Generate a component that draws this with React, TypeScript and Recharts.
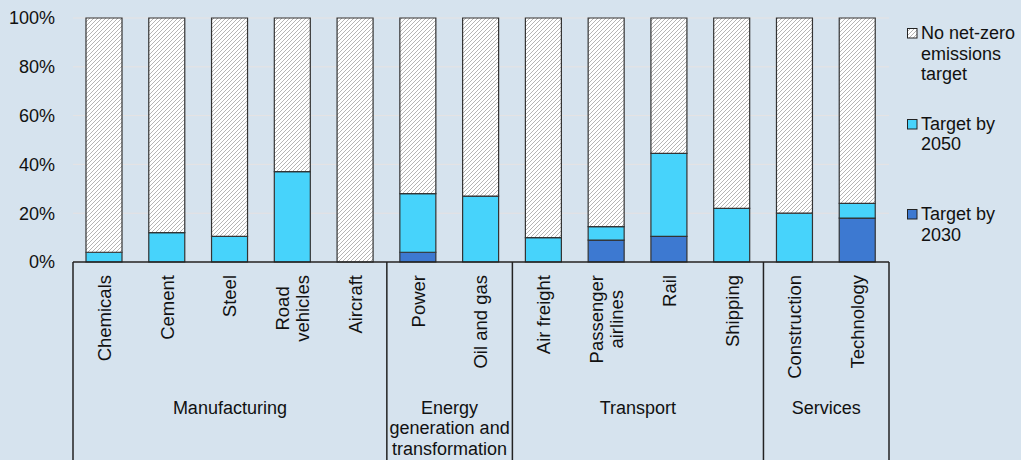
import React from "react";
import { BarChart, Bar, XAxis, YAxis, CartesianGrid, Legend } from "recharts";

const categories = [
  "Chemicals",
  "Cement",
  "Steel",
  "Road\nvehicles",
  "Aircraft",
  "Power",
  "Oil and gas",
  "Air freight",
  "Passenger\nairlines",
  "Rail",
  "Shipping",
  "Construction",
  "Technology",
];
const target2030 = [0, 0, 0, 0, 0, 4, 0, 0, 9, 10.5, 0, 0, 18];
const target2050 = [4, 12, 10.5, 37, 0, 24, 27, 10, 5.5, 34, 22, 20, 6];
const groupNames = ["Manufacturing", "Energy\ngeneration and\ntransformation", "Transport", "Services"];
const groupSizes = [5, 2, 4, 2];
const yTicks = [0, 20, 40, 60, 80, 100];
const seriesNames = ["No net-zero\nemissions\ntarget", "Target by\n2050", "Target by\n2030"];

const data = categories.map((c, i) => ({
  name: c,
  t2030: target2030[i],
  t2050: target2050[i],
  none: 100 - target2030[i] - target2050[i],
}));

const FONT = "'Liberation Sans', Arial, sans-serif";
const TEXT = "#111";
const C2050 = "#47D3FB";
const C2030 = "#3D79D1";
const BG = "#D6E3EE";
const CAT_FS = 18.5;
const FS = 18;

let ctx: CanvasRenderingContext2D | null = null;
function measure(t: string): number {
  if (!ctx) {
    const c = document.createElement("canvas");
    ctx = c.getContext("2d");
  }
  if (!ctx) return t.length * 9;
  ctx.font = `${CAT_FS}px 'Liberation Sans', Arial`;
  return ctx.measureText(t).width;
}

const groupStartIndex: number[] = [];
{
  let acc = 0;
  groupSizes.forEach((s) => {
    groupStartIndex.push(acc);
    acc += s;
  });
}

const CategoryTick = (props: any) => {
  const { x, y, payload, index } = props;
  const idx = typeof index === "number" ? index : payload.index;
  const off = payload && typeof payload.offset === "number" && payload.offset > 0 ? payload.offset : 31.4;
  const lines = String(payload.value).split("\n");
  const w = Math.max(...lines.map(measure));
  const top = y + 13;
  const cy = top + w / 2;
  const lh = 20.5;
  const elems: React.ReactNode[] = [];
  lines.forEach((ln, k) => {
    const lx = x + (k - (lines.length - 1) / 2) * lh;
    elems.push(
      <text
        key={"l" + k}
        x={lx}
        y={cy}
        transform={`rotate(-90 ${lx} ${cy})`}
        textAnchor="middle"
        dominantBaseline="central"
        fontSize={CAT_FS}
        fontFamily={FONT}
        fill={TEXT}
      >
        {ln}
      </text>
    );
  });
  const g = groupStartIndex.indexOf(idx);
  if (g >= 0) {
    const left = x - off;
    elems.push(<line key="sep" x1={left} y1={y} x2={left} y2={y + 200} stroke="#222" strokeWidth={1.5} />);
    const gx = left + groupSizes[g] * off;
    const glines = groupNames[g].split("\n");
    glines.forEach((gl, k) => {
      elems.push(
        <text
          key={"g" + k}
          x={gx}
          y={y + 146 + k * 20.4}
          textAnchor="middle"
          dominantBaseline="central"
          fontSize={FS}
          fontFamily={FONT}
          fill={TEXT}
        >
          {gl}
        </text>
      );
    });
  }
  if (idx === categories.length - 1) {
    const right = x + off;
    elems.push(<line key="sepr" x1={right} y1={y} x2={right} y2={y + 200} stroke="#222" strokeWidth={1.5} />);
  }
  return <g>{elems}</g>;
};

const legendFills = ["url(#hatch)", C2050, C2030];

const LegendContent = () => (
  <div style={{ fontFamily: FONT, fontSize: FS, color: TEXT, lineHeight: "20.5px" }}>
    {seriesNames.map((n, i) => (
      <div key={i} style={{ position: "relative", height: 90.5 }}>
        <svg width={11} height={11} style={{ position: "absolute", left: 4, top: 5 }}>
          <rect x={0.5} y={0.5} width={9.5} height={9.5} fill={legendFills[i]} stroke="#222" strokeWidth={1} />
        </svg>
        <div style={{ position: "absolute", left: 18, top: 0, whiteSpace: "pre" }}>{n}</div>
      </div>
    ))}
  </div>
);

export default function App() {
  return (
    <div
      style={{
        position: "absolute",
        left: 0,
        top: 0,
        width: 1021,
        height: 460,
        background: BG,
        overflow: "hidden",
      }}
    >
      <BarChart
        width={1021}
        height={460}
        data={data}
        margin={{ top: 18, right: 132, bottom: 0, left: 0 }}
        barSize={36}
        style={{ fontFamily: FONT }}
      >
        <defs>
          <pattern id="hatch" patternUnits="userSpaceOnUse" width="4" height="4">
            <rect width="4" height="4" fill="#ffffff" />
            <path d="M-1,1 l2,-2 M0,4 l4,-4 M3,5 l2,-2" stroke="#b5b5b5" strokeWidth={1} />
          </pattern>
        </defs>
        <CartesianGrid vertical={false} stroke="#E6E3E3" strokeWidth={1} />
        <XAxis
          dataKey="name"
          interval={0}
          height={198}
          tickLine={false}
          tickSize={0}
          tickMargin={0}
          axisLine={{ stroke: "#222", strokeWidth: 1.5 }}
          tick={<CategoryTick />}
        />
        <YAxis
          width={73}
          domain={[0, 100]}
          ticks={yTicks}
          axisLine={false}
          tickLine={false}
          tickSize={0}
          tickMargin={18}
          tickFormatter={(v: number) => `${v}%`}
          tick={{ fontSize: FS, fill: TEXT, fontFamily: FONT }}
        />
        <Legend
          layout="vertical"
          align="center"
          verticalAlign="middle"
          content={<LegendContent />}
          wrapperStyle={{ position: "absolute", left: 903, top: 23, width: 118 }}
        />
        <Bar dataKey="t2030" stackId="a" fill={C2030} stroke="#333" strokeWidth={1.2} isAnimationActive={false} />
        <Bar dataKey="t2050" stackId="a" fill={C2050} stroke="#333" strokeWidth={1.2} isAnimationActive={false} />
        <Bar dataKey="none" stackId="a" fill="url(#hatch)" stroke="#333" strokeWidth={1.2} isAnimationActive={false} />
      </BarChart>
    </div>
  );
}
